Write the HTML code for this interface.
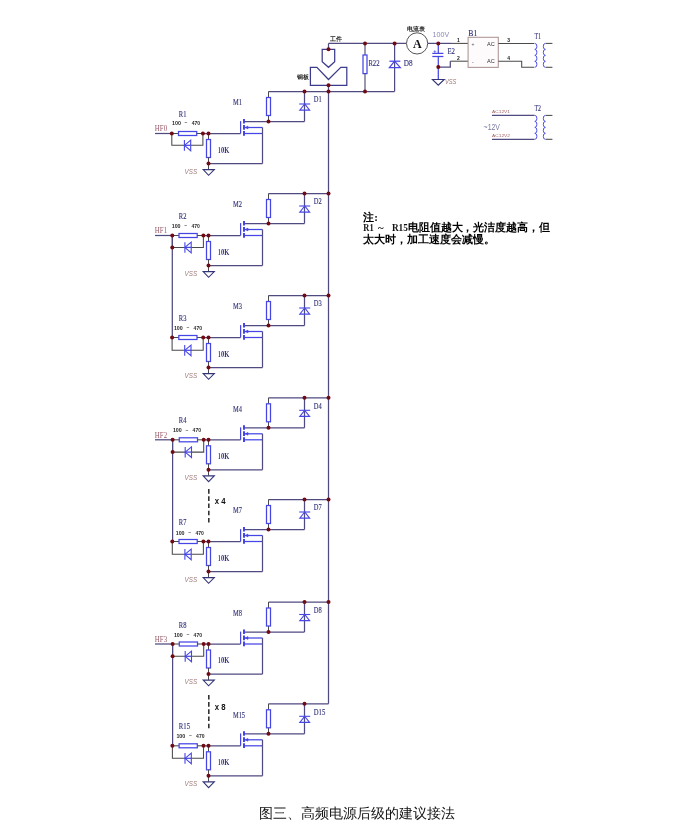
<!DOCTYPE html>
<html><head><meta charset="utf-8"><style>
html,body{margin:0;padding:0;background:#fff;}
body{width:700px;height:833px;overflow:hidden;}
svg{display:block;will-change:transform;}
</style></head><body>
<svg width="700" height="833" viewBox="0 0 700 833">
<rect width="700" height="833" fill="#fff"/>
<line x1="268.5" y1="91.5" x2="328.5" y2="91.5" stroke="#4f4a80" stroke-width="1.25" />
<line x1="268.5" y1="91.5" x2="268.5" y2="97.5" stroke="#4a4a4a" stroke-width="1.05" />
<line x1="268.5" y1="115.5" x2="268.5" y2="121.5" stroke="#4a4a4a" stroke-width="1.05" />
<rect x="266.5" y="97.5" width="4" height="18" stroke="#4646e6" stroke-width="1.25" fill="#fff"/>
<line x1="244" y1="121.5" x2="304.5" y2="121.5" stroke="#4f4a80" stroke-width="1.25" />
<line x1="304.5" y1="121.5" x2="304.5" y2="91.5" stroke="#4f4a80" stroke-width="1.25" />
<line x1="299.2" y1="104.0" x2="310.2" y2="104.0" stroke="#4646e6" stroke-width="1.1" />
<polygon points="304.7,104.0 299.8,110.1 309.6,110.1" stroke="#4646e6" stroke-width="1.1" fill="none" stroke-linejoin="miter"/>
<line x1="240.6" y1="121.1" x2="240.6" y2="133.5" stroke="#4646e6" stroke-width="1.25" />
<line x1="244" y1="119.0" x2="244" y2="123.5" stroke="#4646e6" stroke-width="2" />
<line x1="244" y1="125.0" x2="244" y2="129.7" stroke="#4646e6" stroke-width="2" />
<line x1="244" y1="131.0" x2="244" y2="135.7" stroke="#4646e6" stroke-width="2" />
<line x1="245" y1="127.5" x2="262.5" y2="127.5" stroke="#4646e6" stroke-width="1.25" />
<polygon points="245.3,127.5 248,126.1 248,128.9" stroke="#4646e6" stroke-width="0.6" fill="#4646e6" stroke-linejoin="miter"/>
<line x1="244" y1="133.5" x2="262.5" y2="133.5" stroke="#4646e6" stroke-width="1.25" />
<line x1="262.5" y1="127.5" x2="262.5" y2="163.5" stroke="#4f4a80" stroke-width="1.25" />
<line x1="208.5" y1="163.5" x2="262.5" y2="163.5" stroke="#4f4a80" stroke-width="1.25" />
<line x1="155" y1="133.5" x2="171.8" y2="133.5" stroke="#4f4a80" stroke-width="1.25" />
<text x="154.8" y="131.3" font-family="Liberation Serif" font-size="7.4" fill="#985868" font-weight="normal"  textLength="12.3" lengthAdjust="spacingAndGlyphs">HF0</text>
<line x1="171.8" y1="133.5" x2="178.5" y2="133.5" stroke="#4a4a4a" stroke-width="1.05" />
<rect x="178.5" y="131.5" width="18.2" height="4" stroke="#4646e6" stroke-width="1.25" fill="#fff"/>
<line x1="196.7" y1="133.5" x2="202.9" y2="133.5" stroke="#4a4a4a" stroke-width="1.05" />
<line x1="202.9" y1="133.5" x2="240.6" y2="133.5" stroke="#4f4a80" stroke-width="1.25" />
<polyline points="171.8,133.5 171.8,145.3 184.4,145.3" stroke="#4a4a4a" stroke-width="1.05" fill="none" stroke-linejoin="miter"/>
<polyline points="190.7,145.3 202.9,145.3 202.9,133.5" stroke="#4a4a4a" stroke-width="1.05" fill="none" stroke-linejoin="miter"/>
<line x1="184.4" y1="145.3" x2="190.7" y2="145.3" stroke="#4646e6" stroke-width="1.25" />
<line x1="184.4" y1="140.10000000000002" x2="184.4" y2="150.70000000000002" stroke="#4646e6" stroke-width="1.1" />
<polygon points="184.4,145.3 190.7,140.10000000000002 190.7,150.70000000000002" stroke="#4646e6" stroke-width="1.1" fill="none" stroke-linejoin="miter"/>
<line x1="208.5" y1="133.5" x2="208.5" y2="139.5" stroke="#4a4a4a" stroke-width="1.05" />
<rect x="206.5" y="139.5" width="4" height="18" stroke="#4646e6" stroke-width="1.25" fill="#fff"/>
<line x1="208.5" y1="157.5" x2="208.5" y2="169.5" stroke="#4a4a4a" stroke-width="1.05" />
<polygon points="203.2,169.6 214.3,169.6 208.6,175.3" stroke="#333378" stroke-width="1.1" fill="none" stroke-linejoin="miter"/>
<text x="178.8" y="117.0" font-family="Liberation Serif" font-size="7.4" fill="#303078" font-weight="normal"  textLength="7.6" lengthAdjust="spacingAndGlyphs" stroke="#303078" stroke-width="0.12">R1</text>
<text x="172.0" y="124.9" font-family="Liberation Sans" font-size="6.0" fill="#2a2a2a" font-weight="bold"  textLength="8.9" lengthAdjust="spacingAndGlyphs">100</text>
<text x="184.5" y="124.30000000000001" font-family="Liberation Sans" font-size="5.5" fill="#2a2a2a" font-weight="bold"  textLength="2.8" lengthAdjust="spacingAndGlyphs">~</text>
<text x="191.7" y="124.9" font-family="Liberation Sans" font-size="6.0" fill="#2a2a2a" font-weight="bold"  textLength="8.4" lengthAdjust="spacingAndGlyphs">470</text>
<text x="218.0" y="152.9" font-family="Liberation Serif" font-size="7.3" fill="#2e2e76" font-weight="bold"  textLength="2.6" lengthAdjust="spacingAndGlyphs">1</text>
<text x="221.0" y="152.9" font-family="Liberation Serif" font-size="7.3" fill="#2e2e76" font-weight="bold"  textLength="8.3" lengthAdjust="spacingAndGlyphs">0K</text>
<text x="184.6" y="173.5" font-family="Liberation Sans" font-size="6.5" fill="#a07a7a" font-weight="normal" font-style="italic" textLength="12.5" lengthAdjust="spacingAndGlyphs">VSS</text>
<text x="232.9" y="105.4" font-family="Liberation Serif" font-size="7.8" fill="#303078" font-weight="normal"  textLength="9.0" lengthAdjust="spacingAndGlyphs" stroke="#303078" stroke-width="0.12">M1</text>
<text x="313.8" y="102.3" font-family="Liberation Serif" font-size="7.8" fill="#303078" font-weight="normal"  textLength="7.9" lengthAdjust="spacingAndGlyphs" stroke="#303078" stroke-width="0.12">D1</text>
<line x1="268.5" y1="193.5" x2="328.5" y2="193.5" stroke="#4f4a80" stroke-width="1.25" />
<line x1="268.5" y1="193.5" x2="268.5" y2="199.5" stroke="#4a4a4a" stroke-width="1.05" />
<line x1="268.5" y1="217.5" x2="268.5" y2="223.5" stroke="#4a4a4a" stroke-width="1.05" />
<rect x="266.5" y="199.5" width="4" height="18" stroke="#4646e6" stroke-width="1.25" fill="#fff"/>
<line x1="244" y1="223.5" x2="304.5" y2="223.5" stroke="#4f4a80" stroke-width="1.25" />
<line x1="304.5" y1="223.5" x2="304.5" y2="193.5" stroke="#4f4a80" stroke-width="1.25" />
<line x1="299.2" y1="206.0" x2="310.2" y2="206.0" stroke="#4646e6" stroke-width="1.1" />
<polygon points="304.7,206.0 299.8,212.1 309.6,212.1" stroke="#4646e6" stroke-width="1.1" fill="none" stroke-linejoin="miter"/>
<line x1="240.6" y1="223.1" x2="240.6" y2="235.5" stroke="#4646e6" stroke-width="1.25" />
<line x1="244" y1="221.0" x2="244" y2="225.5" stroke="#4646e6" stroke-width="2" />
<line x1="244" y1="227.0" x2="244" y2="231.7" stroke="#4646e6" stroke-width="2" />
<line x1="244" y1="233.0" x2="244" y2="237.7" stroke="#4646e6" stroke-width="2" />
<line x1="245" y1="229.5" x2="262.5" y2="229.5" stroke="#4646e6" stroke-width="1.25" />
<polygon points="245.3,229.5 248,228.1 248,230.9" stroke="#4646e6" stroke-width="0.6" fill="#4646e6" stroke-linejoin="miter"/>
<line x1="244" y1="235.5" x2="262.5" y2="235.5" stroke="#4646e6" stroke-width="1.25" />
<line x1="262.5" y1="229.5" x2="262.5" y2="265.5" stroke="#4f4a80" stroke-width="1.25" />
<line x1="208.5" y1="265.5" x2="262.5" y2="265.5" stroke="#4f4a80" stroke-width="1.25" />
<line x1="155" y1="235.5" x2="172.3" y2="235.5" stroke="#4f4a80" stroke-width="1.25" />
<text x="154.8" y="233.3" font-family="Liberation Serif" font-size="7.4" fill="#985868" font-weight="normal"  textLength="12.3" lengthAdjust="spacingAndGlyphs">HF1</text>
<line x1="172.3" y1="235.5" x2="179.0" y2="235.5" stroke="#4a4a4a" stroke-width="1.05" />
<rect x="179.0" y="233.5" width="18.2" height="4" stroke="#4646e6" stroke-width="1.25" fill="#fff"/>
<line x1="197.2" y1="235.5" x2="203.4" y2="235.5" stroke="#4a4a4a" stroke-width="1.05" />
<line x1="203.4" y1="235.5" x2="240.6" y2="235.5" stroke="#4f4a80" stroke-width="1.25" />
<polyline points="172.3,235.5 172.3,247.4 184.9,247.4" stroke="#4a4a4a" stroke-width="1.05" fill="none" stroke-linejoin="miter"/>
<polyline points="191.2,247.4 203.4,247.4 203.4,235.5" stroke="#4a4a4a" stroke-width="1.05" fill="none" stroke-linejoin="miter"/>
<line x1="184.9" y1="247.4" x2="191.2" y2="247.4" stroke="#4646e6" stroke-width="1.25" />
<line x1="184.9" y1="242.20000000000002" x2="184.9" y2="252.8" stroke="#4646e6" stroke-width="1.1" />
<polygon points="184.9,247.4 191.2,242.20000000000002 191.2,252.8" stroke="#4646e6" stroke-width="1.1" fill="none" stroke-linejoin="miter"/>
<line x1="172.3" y1="235.5" x2="172.3" y2="337.5" stroke="#4f4a80" stroke-width="1.25" />
<line x1="208.5" y1="235.5" x2="208.5" y2="241.5" stroke="#4a4a4a" stroke-width="1.05" />
<rect x="206.5" y="241.5" width="4" height="18" stroke="#4646e6" stroke-width="1.25" fill="#fff"/>
<line x1="208.5" y1="259.5" x2="208.5" y2="271.5" stroke="#4a4a4a" stroke-width="1.05" />
<polygon points="203.2,271.6 214.3,271.6 208.6,277.3" stroke="#333378" stroke-width="1.1" fill="none" stroke-linejoin="miter"/>
<text x="178.8" y="219.0" font-family="Liberation Serif" font-size="7.4" fill="#303078" font-weight="normal"  textLength="7.6" lengthAdjust="spacingAndGlyphs" stroke="#303078" stroke-width="0.12">R2</text>
<text x="171.7" y="227.9" font-family="Liberation Sans" font-size="6.0" fill="#2a2a2a" font-weight="bold"  textLength="8.9" lengthAdjust="spacingAndGlyphs">100</text>
<text x="184.2" y="227.3" font-family="Liberation Sans" font-size="5.5" fill="#2a2a2a" font-weight="bold"  textLength="2.8" lengthAdjust="spacingAndGlyphs">~</text>
<text x="191.39999999999998" y="227.9" font-family="Liberation Sans" font-size="6.0" fill="#2a2a2a" font-weight="bold"  textLength="8.4" lengthAdjust="spacingAndGlyphs">470</text>
<text x="218.0" y="254.9" font-family="Liberation Serif" font-size="7.3" fill="#2e2e76" font-weight="bold"  textLength="2.6" lengthAdjust="spacingAndGlyphs">1</text>
<text x="221.0" y="254.9" font-family="Liberation Serif" font-size="7.3" fill="#2e2e76" font-weight="bold"  textLength="8.3" lengthAdjust="spacingAndGlyphs">0K</text>
<text x="184.6" y="275.5" font-family="Liberation Sans" font-size="6.5" fill="#a07a7a" font-weight="normal" font-style="italic" textLength="12.5" lengthAdjust="spacingAndGlyphs">VSS</text>
<text x="232.9" y="207.4" font-family="Liberation Serif" font-size="7.8" fill="#303078" font-weight="normal"  textLength="9.0" lengthAdjust="spacingAndGlyphs" stroke="#303078" stroke-width="0.12">M2</text>
<text x="313.8" y="204.3" font-family="Liberation Serif" font-size="7.8" fill="#303078" font-weight="normal"  textLength="7.9" lengthAdjust="spacingAndGlyphs" stroke="#303078" stroke-width="0.12">D2</text>
<line x1="268.5" y1="295.5" x2="328.5" y2="295.5" stroke="#4f4a80" stroke-width="1.25" />
<line x1="268.5" y1="295.5" x2="268.5" y2="301.5" stroke="#4a4a4a" stroke-width="1.05" />
<line x1="268.5" y1="319.5" x2="268.5" y2="325.5" stroke="#4a4a4a" stroke-width="1.05" />
<rect x="266.5" y="301.5" width="4" height="18" stroke="#4646e6" stroke-width="1.25" fill="#fff"/>
<line x1="244" y1="325.5" x2="304.5" y2="325.5" stroke="#4f4a80" stroke-width="1.25" />
<line x1="304.5" y1="325.5" x2="304.5" y2="295.5" stroke="#4f4a80" stroke-width="1.25" />
<line x1="299.2" y1="308.0" x2="310.2" y2="308.0" stroke="#4646e6" stroke-width="1.1" />
<polygon points="304.7,308.0 299.8,314.1 309.6,314.1" stroke="#4646e6" stroke-width="1.1" fill="none" stroke-linejoin="miter"/>
<line x1="240.6" y1="325.1" x2="240.6" y2="337.5" stroke="#4646e6" stroke-width="1.25" />
<line x1="244" y1="323.0" x2="244" y2="327.5" stroke="#4646e6" stroke-width="2" />
<line x1="244" y1="329.0" x2="244" y2="333.7" stroke="#4646e6" stroke-width="2" />
<line x1="244" y1="335.0" x2="244" y2="339.7" stroke="#4646e6" stroke-width="2" />
<line x1="245" y1="331.5" x2="262.5" y2="331.5" stroke="#4646e6" stroke-width="1.25" />
<polygon points="245.3,331.5 248,330.1 248,332.9" stroke="#4646e6" stroke-width="0.6" fill="#4646e6" stroke-linejoin="miter"/>
<line x1="244" y1="337.5" x2="262.5" y2="337.5" stroke="#4646e6" stroke-width="1.25" />
<line x1="262.5" y1="331.5" x2="262.5" y2="367.5" stroke="#4f4a80" stroke-width="1.25" />
<line x1="208.5" y1="367.5" x2="262.5" y2="367.5" stroke="#4f4a80" stroke-width="1.25" />
<line x1="172.10000000000002" y1="337.5" x2="178.8" y2="337.5" stroke="#4a4a4a" stroke-width="1.05" />
<rect x="178.8" y="335.5" width="18.2" height="4" stroke="#4646e6" stroke-width="1.25" fill="#fff"/>
<line x1="197.0" y1="337.5" x2="203.20000000000002" y2="337.5" stroke="#4a4a4a" stroke-width="1.05" />
<line x1="203.20000000000002" y1="337.5" x2="240.6" y2="337.5" stroke="#4f4a80" stroke-width="1.25" />
<polyline points="172.10000000000002,337.5 172.10000000000002,350.3 184.70000000000002,350.3" stroke="#4a4a4a" stroke-width="1.05" fill="none" stroke-linejoin="miter"/>
<polyline points="191.0,350.3 203.20000000000002,350.3 203.20000000000002,337.5" stroke="#4a4a4a" stroke-width="1.05" fill="none" stroke-linejoin="miter"/>
<line x1="184.70000000000002" y1="350.3" x2="191.0" y2="350.3" stroke="#4646e6" stroke-width="1.25" />
<line x1="184.70000000000002" y1="345.1" x2="184.70000000000002" y2="355.7" stroke="#4646e6" stroke-width="1.1" />
<polygon points="184.70000000000002,350.3 191.0,345.1 191.0,355.7" stroke="#4646e6" stroke-width="1.1" fill="none" stroke-linejoin="miter"/>
<line x1="208.5" y1="337.5" x2="208.5" y2="343.5" stroke="#4a4a4a" stroke-width="1.05" />
<rect x="206.5" y="343.5" width="4" height="18" stroke="#4646e6" stroke-width="1.25" fill="#fff"/>
<line x1="208.5" y1="361.5" x2="208.5" y2="373.5" stroke="#4a4a4a" stroke-width="1.05" />
<polygon points="203.2,373.6 214.3,373.6 208.6,379.3" stroke="#333378" stroke-width="1.1" fill="none" stroke-linejoin="miter"/>
<text x="178.8" y="321.0" font-family="Liberation Serif" font-size="7.4" fill="#303078" font-weight="normal"  textLength="7.6" lengthAdjust="spacingAndGlyphs" stroke="#303078" stroke-width="0.12">R3</text>
<text x="173.9" y="330.0" font-family="Liberation Sans" font-size="6.0" fill="#2a2a2a" font-weight="bold"  textLength="8.9" lengthAdjust="spacingAndGlyphs">100</text>
<text x="186.4" y="329.4" font-family="Liberation Sans" font-size="5.5" fill="#2a2a2a" font-weight="bold"  textLength="2.8" lengthAdjust="spacingAndGlyphs">~</text>
<text x="193.6" y="330.0" font-family="Liberation Sans" font-size="6.0" fill="#2a2a2a" font-weight="bold"  textLength="8.4" lengthAdjust="spacingAndGlyphs">470</text>
<text x="218.0" y="356.9" font-family="Liberation Serif" font-size="7.3" fill="#2e2e76" font-weight="bold"  textLength="2.6" lengthAdjust="spacingAndGlyphs">1</text>
<text x="221.0" y="356.9" font-family="Liberation Serif" font-size="7.3" fill="#2e2e76" font-weight="bold"  textLength="8.3" lengthAdjust="spacingAndGlyphs">0K</text>
<text x="184.6" y="377.5" font-family="Liberation Sans" font-size="6.5" fill="#a07a7a" font-weight="normal" font-style="italic" textLength="12.5" lengthAdjust="spacingAndGlyphs">VSS</text>
<text x="232.9" y="309.4" font-family="Liberation Serif" font-size="7.8" fill="#303078" font-weight="normal"  textLength="9.0" lengthAdjust="spacingAndGlyphs" stroke="#303078" stroke-width="0.12">M3</text>
<text x="313.8" y="306.3" font-family="Liberation Serif" font-size="7.8" fill="#303078" font-weight="normal"  textLength="7.9" lengthAdjust="spacingAndGlyphs" stroke="#303078" stroke-width="0.12">D3</text>
<line x1="268.5" y1="397.8" x2="328.5" y2="397.8" stroke="#4f4a80" stroke-width="1.25" />
<line x1="268.5" y1="397.8" x2="268.5" y2="403.8" stroke="#4a4a4a" stroke-width="1.05" />
<line x1="268.5" y1="421.8" x2="268.5" y2="427.8" stroke="#4a4a4a" stroke-width="1.05" />
<rect x="266.5" y="403.8" width="4" height="18" stroke="#4646e6" stroke-width="1.25" fill="#fff"/>
<line x1="244" y1="427.8" x2="304.5" y2="427.8" stroke="#4f4a80" stroke-width="1.25" />
<line x1="304.5" y1="427.8" x2="304.5" y2="397.8" stroke="#4f4a80" stroke-width="1.25" />
<line x1="299.2" y1="410.3" x2="310.2" y2="410.3" stroke="#4646e6" stroke-width="1.1" />
<polygon points="304.7,410.3 299.8,416.40000000000003 309.6,416.40000000000003" stroke="#4646e6" stroke-width="1.1" fill="none" stroke-linejoin="miter"/>
<line x1="240.6" y1="427.40000000000003" x2="240.6" y2="439.8" stroke="#4646e6" stroke-width="1.25" />
<line x1="244" y1="425.3" x2="244" y2="429.8" stroke="#4646e6" stroke-width="2" />
<line x1="244" y1="431.3" x2="244" y2="436.0" stroke="#4646e6" stroke-width="2" />
<line x1="244" y1="437.3" x2="244" y2="442.0" stroke="#4646e6" stroke-width="2" />
<line x1="245" y1="433.8" x2="262.5" y2="433.8" stroke="#4646e6" stroke-width="1.25" />
<polygon points="245.3,433.8 248,432.40000000000003 248,435.2" stroke="#4646e6" stroke-width="0.6" fill="#4646e6" stroke-linejoin="miter"/>
<line x1="244" y1="439.8" x2="262.5" y2="439.8" stroke="#4646e6" stroke-width="1.25" />
<line x1="262.5" y1="433.8" x2="262.5" y2="469.8" stroke="#4f4a80" stroke-width="1.25" />
<line x1="208.5" y1="469.8" x2="262.5" y2="469.8" stroke="#4f4a80" stroke-width="1.25" />
<line x1="155" y1="439.8" x2="172.60000000000002" y2="439.8" stroke="#4f4a80" stroke-width="1.25" />
<text x="154.8" y="437.6" font-family="Liberation Serif" font-size="7.4" fill="#985868" font-weight="normal"  textLength="12.3" lengthAdjust="spacingAndGlyphs">HF2</text>
<line x1="172.60000000000002" y1="439.8" x2="179.3" y2="439.8" stroke="#4a4a4a" stroke-width="1.05" />
<rect x="179.3" y="437.8" width="18.2" height="4" stroke="#4646e6" stroke-width="1.25" fill="#fff"/>
<line x1="197.5" y1="439.8" x2="203.70000000000002" y2="439.8" stroke="#4a4a4a" stroke-width="1.05" />
<line x1="203.70000000000002" y1="439.8" x2="240.6" y2="439.8" stroke="#4f4a80" stroke-width="1.25" />
<polyline points="172.60000000000002,439.8 172.60000000000002,452.1 185.20000000000002,452.1" stroke="#4a4a4a" stroke-width="1.05" fill="none" stroke-linejoin="miter"/>
<polyline points="191.5,452.1 203.70000000000002,452.1 203.70000000000002,439.8" stroke="#4a4a4a" stroke-width="1.05" fill="none" stroke-linejoin="miter"/>
<line x1="185.20000000000002" y1="452.1" x2="191.5" y2="452.1" stroke="#4646e6" stroke-width="1.25" />
<line x1="185.20000000000002" y1="446.90000000000003" x2="185.20000000000002" y2="457.5" stroke="#4646e6" stroke-width="1.1" />
<polygon points="185.20000000000002,452.1 191.5,446.90000000000003 191.5,457.5" stroke="#4646e6" stroke-width="1.1" fill="none" stroke-linejoin="miter"/>
<line x1="172.60000000000002" y1="439.8" x2="172.60000000000002" y2="541.5" stroke="#4f4a80" stroke-width="1.25" />
<line x1="208.5" y1="439.8" x2="208.5" y2="445.8" stroke="#4a4a4a" stroke-width="1.05" />
<rect x="206.5" y="445.8" width="4" height="18" stroke="#4646e6" stroke-width="1.25" fill="#fff"/>
<line x1="208.5" y1="463.8" x2="208.5" y2="475.8" stroke="#4a4a4a" stroke-width="1.05" />
<polygon points="203.2,475.9 214.3,475.9 208.6,481.6" stroke="#333378" stroke-width="1.1" fill="none" stroke-linejoin="miter"/>
<text x="178.8" y="423.3" font-family="Liberation Serif" font-size="7.4" fill="#303078" font-weight="normal"  textLength="7.6" lengthAdjust="spacingAndGlyphs" stroke="#303078" stroke-width="0.12">R4</text>
<text x="172.9" y="432.1" font-family="Liberation Sans" font-size="6.0" fill="#2a2a2a" font-weight="bold"  textLength="8.9" lengthAdjust="spacingAndGlyphs">100</text>
<text x="185.4" y="431.5" font-family="Liberation Sans" font-size="5.5" fill="#2a2a2a" font-weight="bold"  textLength="2.8" lengthAdjust="spacingAndGlyphs">~</text>
<text x="192.6" y="432.1" font-family="Liberation Sans" font-size="6.0" fill="#2a2a2a" font-weight="bold"  textLength="8.4" lengthAdjust="spacingAndGlyphs">470</text>
<text x="218.0" y="459.2" font-family="Liberation Serif" font-size="7.3" fill="#2e2e76" font-weight="bold"  textLength="2.6" lengthAdjust="spacingAndGlyphs">1</text>
<text x="221.0" y="459.2" font-family="Liberation Serif" font-size="7.3" fill="#2e2e76" font-weight="bold"  textLength="8.3" lengthAdjust="spacingAndGlyphs">0K</text>
<text x="184.6" y="479.8" font-family="Liberation Sans" font-size="6.5" fill="#a07a7a" font-weight="normal" font-style="italic" textLength="12.5" lengthAdjust="spacingAndGlyphs">VSS</text>
<text x="232.9" y="411.7" font-family="Liberation Serif" font-size="7.8" fill="#303078" font-weight="normal"  textLength="9.0" lengthAdjust="spacingAndGlyphs" stroke="#303078" stroke-width="0.12">M4</text>
<text x="313.8" y="408.6" font-family="Liberation Serif" font-size="7.8" fill="#303078" font-weight="normal"  textLength="7.9" lengthAdjust="spacingAndGlyphs" stroke="#303078" stroke-width="0.12">D4</text>
<line x1="268.5" y1="499.5" x2="328.5" y2="499.5" stroke="#4f4a80" stroke-width="1.25" />
<line x1="268.5" y1="499.5" x2="268.5" y2="505.5" stroke="#4a4a4a" stroke-width="1.05" />
<line x1="268.5" y1="523.5" x2="268.5" y2="529.5" stroke="#4a4a4a" stroke-width="1.05" />
<rect x="266.5" y="505.5" width="4" height="18" stroke="#4646e6" stroke-width="1.25" fill="#fff"/>
<line x1="244" y1="529.5" x2="304.5" y2="529.5" stroke="#4f4a80" stroke-width="1.25" />
<line x1="304.5" y1="529.5" x2="304.5" y2="499.5" stroke="#4f4a80" stroke-width="1.25" />
<line x1="299.2" y1="512.0" x2="310.2" y2="512.0" stroke="#4646e6" stroke-width="1.1" />
<polygon points="304.7,512.0 299.8,518.1 309.6,518.1" stroke="#4646e6" stroke-width="1.1" fill="none" stroke-linejoin="miter"/>
<line x1="240.6" y1="529.1" x2="240.6" y2="541.5" stroke="#4646e6" stroke-width="1.25" />
<line x1="244" y1="527.0" x2="244" y2="531.5" stroke="#4646e6" stroke-width="2" />
<line x1="244" y1="533.0" x2="244" y2="537.7" stroke="#4646e6" stroke-width="2" />
<line x1="244" y1="539.0" x2="244" y2="543.7" stroke="#4646e6" stroke-width="2" />
<line x1="245" y1="535.5" x2="262.5" y2="535.5" stroke="#4646e6" stroke-width="1.25" />
<polygon points="245.3,535.5 248,534.1 248,536.9" stroke="#4646e6" stroke-width="0.6" fill="#4646e6" stroke-linejoin="miter"/>
<line x1="244" y1="541.5" x2="262.5" y2="541.5" stroke="#4646e6" stroke-width="1.25" />
<line x1="262.5" y1="535.5" x2="262.5" y2="571.5" stroke="#4f4a80" stroke-width="1.25" />
<line x1="208.5" y1="571.5" x2="262.5" y2="571.5" stroke="#4f4a80" stroke-width="1.25" />
<line x1="172.3" y1="541.5" x2="179.0" y2="541.5" stroke="#4a4a4a" stroke-width="1.05" />
<rect x="179.0" y="539.5" width="18.2" height="4" stroke="#4646e6" stroke-width="1.25" fill="#fff"/>
<line x1="197.2" y1="541.5" x2="203.4" y2="541.5" stroke="#4a4a4a" stroke-width="1.05" />
<line x1="203.4" y1="541.5" x2="240.6" y2="541.5" stroke="#4f4a80" stroke-width="1.25" />
<polyline points="172.3,541.5 172.3,554.3 184.9,554.3" stroke="#4a4a4a" stroke-width="1.05" fill="none" stroke-linejoin="miter"/>
<polyline points="191.2,554.3 203.4,554.3 203.4,541.5" stroke="#4a4a4a" stroke-width="1.05" fill="none" stroke-linejoin="miter"/>
<line x1="184.9" y1="554.3" x2="191.2" y2="554.3" stroke="#4646e6" stroke-width="1.25" />
<line x1="184.9" y1="549.0999999999999" x2="184.9" y2="559.6999999999999" stroke="#4646e6" stroke-width="1.1" />
<polygon points="184.9,554.3 191.2,549.0999999999999 191.2,559.6999999999999" stroke="#4646e6" stroke-width="1.1" fill="none" stroke-linejoin="miter"/>
<line x1="208.5" y1="541.5" x2="208.5" y2="547.5" stroke="#4a4a4a" stroke-width="1.05" />
<rect x="206.5" y="547.5" width="4" height="18" stroke="#4646e6" stroke-width="1.25" fill="#fff"/>
<line x1="208.5" y1="565.5" x2="208.5" y2="577.5" stroke="#4a4a4a" stroke-width="1.05" />
<polygon points="203.2,577.6 214.3,577.6 208.6,583.3" stroke="#333378" stroke-width="1.1" fill="none" stroke-linejoin="miter"/>
<text x="178.8" y="525.0" font-family="Liberation Serif" font-size="7.4" fill="#303078" font-weight="normal"  textLength="7.6" lengthAdjust="spacingAndGlyphs" stroke="#303078" stroke-width="0.12">R7</text>
<text x="175.7" y="535.0" font-family="Liberation Sans" font-size="6.0" fill="#2a2a2a" font-weight="bold"  textLength="8.9" lengthAdjust="spacingAndGlyphs">100</text>
<text x="188.2" y="534.4" font-family="Liberation Sans" font-size="5.5" fill="#2a2a2a" font-weight="bold"  textLength="2.8" lengthAdjust="spacingAndGlyphs">~</text>
<text x="195.39999999999998" y="535.0" font-family="Liberation Sans" font-size="6.0" fill="#2a2a2a" font-weight="bold"  textLength="8.4" lengthAdjust="spacingAndGlyphs">470</text>
<text x="218.0" y="560.9" font-family="Liberation Serif" font-size="7.3" fill="#2e2e76" font-weight="bold"  textLength="2.6" lengthAdjust="spacingAndGlyphs">1</text>
<text x="221.0" y="560.9" font-family="Liberation Serif" font-size="7.3" fill="#2e2e76" font-weight="bold"  textLength="8.3" lengthAdjust="spacingAndGlyphs">0K</text>
<text x="184.6" y="581.5" font-family="Liberation Sans" font-size="6.5" fill="#a07a7a" font-weight="normal" font-style="italic" textLength="12.5" lengthAdjust="spacingAndGlyphs">VSS</text>
<text x="232.9" y="513.4" font-family="Liberation Serif" font-size="7.8" fill="#303078" font-weight="normal"  textLength="9.0" lengthAdjust="spacingAndGlyphs" stroke="#303078" stroke-width="0.12">M7</text>
<text x="313.8" y="510.3" font-family="Liberation Serif" font-size="7.8" fill="#303078" font-weight="normal"  textLength="7.9" lengthAdjust="spacingAndGlyphs" stroke="#303078" stroke-width="0.12">D7</text>
<line x1="268.5" y1="602.0" x2="328.5" y2="602.0" stroke="#4f4a80" stroke-width="1.25" />
<line x1="268.5" y1="602.0" x2="268.5" y2="608.0" stroke="#4a4a4a" stroke-width="1.05" />
<line x1="268.5" y1="626.0" x2="268.5" y2="632.0" stroke="#4a4a4a" stroke-width="1.05" />
<rect x="266.5" y="608.0" width="4" height="18" stroke="#4646e6" stroke-width="1.25" fill="#fff"/>
<line x1="244" y1="632.0" x2="304.5" y2="632.0" stroke="#4f4a80" stroke-width="1.25" />
<line x1="304.5" y1="632.0" x2="304.5" y2="602.0" stroke="#4f4a80" stroke-width="1.25" />
<line x1="299.2" y1="614.5" x2="310.2" y2="614.5" stroke="#4646e6" stroke-width="1.1" />
<polygon points="304.7,614.5 299.8,620.6 309.6,620.6" stroke="#4646e6" stroke-width="1.1" fill="none" stroke-linejoin="miter"/>
<line x1="240.6" y1="631.6" x2="240.6" y2="644.0" stroke="#4646e6" stroke-width="1.25" />
<line x1="244" y1="629.5" x2="244" y2="634.0" stroke="#4646e6" stroke-width="2" />
<line x1="244" y1="635.5" x2="244" y2="640.2" stroke="#4646e6" stroke-width="2" />
<line x1="244" y1="641.5" x2="244" y2="646.2" stroke="#4646e6" stroke-width="2" />
<line x1="245" y1="638.0" x2="262.5" y2="638.0" stroke="#4646e6" stroke-width="1.25" />
<polygon points="245.3,638.0 248,636.6 248,639.4" stroke="#4646e6" stroke-width="0.6" fill="#4646e6" stroke-linejoin="miter"/>
<line x1="244" y1="644.0" x2="262.5" y2="644.0" stroke="#4646e6" stroke-width="1.25" />
<line x1="262.5" y1="638.0" x2="262.5" y2="674.0" stroke="#4f4a80" stroke-width="1.25" />
<line x1="208.5" y1="674.0" x2="262.5" y2="674.0" stroke="#4f4a80" stroke-width="1.25" />
<line x1="155" y1="644.0" x2="172.60000000000002" y2="644.0" stroke="#4f4a80" stroke-width="1.25" />
<text x="154.8" y="641.8" font-family="Liberation Serif" font-size="7.4" fill="#985868" font-weight="normal"  textLength="12.3" lengthAdjust="spacingAndGlyphs">HF3</text>
<line x1="172.60000000000002" y1="644.0" x2="179.3" y2="644.0" stroke="#4a4a4a" stroke-width="1.05" />
<rect x="179.3" y="642.0" width="18.2" height="4" stroke="#4646e6" stroke-width="1.25" fill="#fff"/>
<line x1="197.5" y1="644.0" x2="203.70000000000002" y2="644.0" stroke="#4a4a4a" stroke-width="1.05" />
<line x1="203.70000000000002" y1="644.0" x2="240.6" y2="644.0" stroke="#4f4a80" stroke-width="1.25" />
<polyline points="172.60000000000002,644.0 172.60000000000002,656.3 185.20000000000002,656.3" stroke="#4a4a4a" stroke-width="1.05" fill="none" stroke-linejoin="miter"/>
<polyline points="191.5,656.3 203.70000000000002,656.3 203.70000000000002,644.0" stroke="#4a4a4a" stroke-width="1.05" fill="none" stroke-linejoin="miter"/>
<line x1="185.20000000000002" y1="656.3" x2="191.5" y2="656.3" stroke="#4646e6" stroke-width="1.25" />
<line x1="185.20000000000002" y1="651.0999999999999" x2="185.20000000000002" y2="661.6999999999999" stroke="#4646e6" stroke-width="1.1" />
<polygon points="185.20000000000002,656.3 191.5,651.0999999999999 191.5,661.6999999999999" stroke="#4646e6" stroke-width="1.1" fill="none" stroke-linejoin="miter"/>
<line x1="172.60000000000002" y1="644.0" x2="172.60000000000002" y2="745.8" stroke="#4f4a80" stroke-width="1.25" />
<line x1="208.5" y1="644.0" x2="208.5" y2="650.0" stroke="#4a4a4a" stroke-width="1.05" />
<rect x="206.5" y="650.0" width="4" height="18" stroke="#4646e6" stroke-width="1.25" fill="#fff"/>
<line x1="208.5" y1="668.0" x2="208.5" y2="680.0" stroke="#4a4a4a" stroke-width="1.05" />
<polygon points="203.2,680.1 214.3,680.1 208.6,685.8" stroke="#333378" stroke-width="1.1" fill="none" stroke-linejoin="miter"/>
<text x="178.8" y="627.5" font-family="Liberation Serif" font-size="7.4" fill="#303078" font-weight="normal"  textLength="7.6" lengthAdjust="spacingAndGlyphs" stroke="#303078" stroke-width="0.12">R8</text>
<text x="173.9" y="636.8" font-family="Liberation Sans" font-size="6.0" fill="#2a2a2a" font-weight="bold"  textLength="8.9" lengthAdjust="spacingAndGlyphs">100</text>
<text x="186.4" y="636.1999999999999" font-family="Liberation Sans" font-size="5.5" fill="#2a2a2a" font-weight="bold"  textLength="2.8" lengthAdjust="spacingAndGlyphs">~</text>
<text x="193.6" y="636.8" font-family="Liberation Sans" font-size="6.0" fill="#2a2a2a" font-weight="bold"  textLength="8.4" lengthAdjust="spacingAndGlyphs">470</text>
<text x="218.0" y="663.4" font-family="Liberation Serif" font-size="7.3" fill="#2e2e76" font-weight="bold"  textLength="2.6" lengthAdjust="spacingAndGlyphs">1</text>
<text x="221.0" y="663.4" font-family="Liberation Serif" font-size="7.3" fill="#2e2e76" font-weight="bold"  textLength="8.3" lengthAdjust="spacingAndGlyphs">0K</text>
<text x="184.6" y="684.0" font-family="Liberation Sans" font-size="6.5" fill="#a07a7a" font-weight="normal" font-style="italic" textLength="12.5" lengthAdjust="spacingAndGlyphs">VSS</text>
<text x="232.9" y="615.9" font-family="Liberation Serif" font-size="7.8" fill="#303078" font-weight="normal"  textLength="9.0" lengthAdjust="spacingAndGlyphs" stroke="#303078" stroke-width="0.12">M8</text>
<text x="313.8" y="612.8" font-family="Liberation Serif" font-size="7.8" fill="#303078" font-weight="normal"  textLength="7.9" lengthAdjust="spacingAndGlyphs" stroke="#303078" stroke-width="0.12">D8</text>
<line x1="268.5" y1="703.8" x2="328.5" y2="703.8" stroke="#4f4a80" stroke-width="1.25" />
<line x1="268.5" y1="703.8" x2="268.5" y2="709.8" stroke="#4a4a4a" stroke-width="1.05" />
<line x1="268.5" y1="727.8" x2="268.5" y2="733.8" stroke="#4a4a4a" stroke-width="1.05" />
<rect x="266.5" y="709.8" width="4" height="18" stroke="#4646e6" stroke-width="1.25" fill="#fff"/>
<line x1="244" y1="733.8" x2="304.5" y2="733.8" stroke="#4f4a80" stroke-width="1.25" />
<line x1="304.5" y1="733.8" x2="304.5" y2="703.8" stroke="#4f4a80" stroke-width="1.25" />
<line x1="299.2" y1="716.3" x2="310.2" y2="716.3" stroke="#4646e6" stroke-width="1.1" />
<polygon points="304.7,716.3 299.8,722.4 309.6,722.4" stroke="#4646e6" stroke-width="1.1" fill="none" stroke-linejoin="miter"/>
<line x1="240.6" y1="733.4" x2="240.6" y2="745.8" stroke="#4646e6" stroke-width="1.25" />
<line x1="244" y1="731.3" x2="244" y2="735.8" stroke="#4646e6" stroke-width="2" />
<line x1="244" y1="737.3" x2="244" y2="742.0" stroke="#4646e6" stroke-width="2" />
<line x1="244" y1="743.3" x2="244" y2="748.0" stroke="#4646e6" stroke-width="2" />
<line x1="245" y1="739.8" x2="262.5" y2="739.8" stroke="#4646e6" stroke-width="1.25" />
<polygon points="245.3,739.8 248,738.4 248,741.1999999999999" stroke="#4646e6" stroke-width="0.6" fill="#4646e6" stroke-linejoin="miter"/>
<line x1="244" y1="745.8" x2="262.5" y2="745.8" stroke="#4646e6" stroke-width="1.25" />
<line x1="262.5" y1="739.8" x2="262.5" y2="775.8" stroke="#4f4a80" stroke-width="1.25" />
<line x1="208.5" y1="775.8" x2="262.5" y2="775.8" stroke="#4f4a80" stroke-width="1.25" />
<line x1="172.4" y1="745.8" x2="179.1" y2="745.8" stroke="#4a4a4a" stroke-width="1.05" />
<rect x="179.1" y="743.8" width="18.2" height="4" stroke="#4646e6" stroke-width="1.25" fill="#fff"/>
<line x1="197.29999999999998" y1="745.8" x2="203.5" y2="745.8" stroke="#4a4a4a" stroke-width="1.05" />
<line x1="203.5" y1="745.8" x2="240.6" y2="745.8" stroke="#4f4a80" stroke-width="1.25" />
<polyline points="172.4,745.8 172.4,758.3 185.0,758.3" stroke="#4a4a4a" stroke-width="1.05" fill="none" stroke-linejoin="miter"/>
<polyline points="191.29999999999998,758.3 203.5,758.3 203.5,745.8" stroke="#4a4a4a" stroke-width="1.05" fill="none" stroke-linejoin="miter"/>
<line x1="185.0" y1="758.3" x2="191.29999999999998" y2="758.3" stroke="#4646e6" stroke-width="1.25" />
<line x1="185.0" y1="753.0999999999999" x2="185.0" y2="763.6999999999999" stroke="#4646e6" stroke-width="1.1" />
<polygon points="185.0,758.3 191.29999999999998,753.0999999999999 191.29999999999998,763.6999999999999" stroke="#4646e6" stroke-width="1.1" fill="none" stroke-linejoin="miter"/>
<line x1="208.5" y1="745.8" x2="208.5" y2="751.8" stroke="#4a4a4a" stroke-width="1.05" />
<rect x="206.5" y="751.8" width="4" height="18" stroke="#4646e6" stroke-width="1.25" fill="#fff"/>
<line x1="208.5" y1="769.8" x2="208.5" y2="781.8" stroke="#4a4a4a" stroke-width="1.05" />
<polygon points="203.2,781.9 214.3,781.9 208.6,787.5999999999999" stroke="#333378" stroke-width="1.1" fill="none" stroke-linejoin="miter"/>
<text x="178.8" y="729.3" font-family="Liberation Serif" font-size="7.4" fill="#303078" font-weight="normal"  textLength="11.2" lengthAdjust="spacingAndGlyphs" stroke="#303078" stroke-width="0.12">R15</text>
<text x="176.4" y="737.8" font-family="Liberation Sans" font-size="6.0" fill="#2a2a2a" font-weight="bold"  textLength="8.9" lengthAdjust="spacingAndGlyphs">100</text>
<text x="188.9" y="737.1999999999999" font-family="Liberation Sans" font-size="5.5" fill="#2a2a2a" font-weight="bold"  textLength="2.8" lengthAdjust="spacingAndGlyphs">~</text>
<text x="196.1" y="737.8" font-family="Liberation Sans" font-size="6.0" fill="#2a2a2a" font-weight="bold"  textLength="8.4" lengthAdjust="spacingAndGlyphs">470</text>
<text x="218.0" y="765.1999999999999" font-family="Liberation Serif" font-size="7.3" fill="#2e2e76" font-weight="bold"  textLength="2.6" lengthAdjust="spacingAndGlyphs">1</text>
<text x="221.0" y="765.1999999999999" font-family="Liberation Serif" font-size="7.3" fill="#2e2e76" font-weight="bold"  textLength="8.3" lengthAdjust="spacingAndGlyphs">0K</text>
<text x="184.6" y="785.8" font-family="Liberation Sans" font-size="6.5" fill="#a07a7a" font-weight="normal" font-style="italic" textLength="12.5" lengthAdjust="spacingAndGlyphs">VSS</text>
<text x="232.9" y="717.6999999999999" font-family="Liberation Serif" font-size="7.8" fill="#303078" font-weight="normal"  textLength="12.2" lengthAdjust="spacingAndGlyphs" stroke="#303078" stroke-width="0.12">M15</text>
<text x="313.8" y="714.5999999999999" font-family="Liberation Serif" font-size="7.8" fill="#303078" font-weight="normal"  textLength="11.5" lengthAdjust="spacingAndGlyphs" stroke="#303078" stroke-width="0.12">D15</text>
<line x1="328.5" y1="85.3" x2="328.5" y2="703.8" stroke="#4f4a80" stroke-width="1.25" />
<line x1="208.8" y1="489.1" x2="208.8" y2="522.6" stroke="#333" stroke-width="1.6" stroke-dasharray="4.6,2.6"/>
<text x="214.8" y="503.90000000000003" font-family="Liberation Sans" font-size="8.3" fill="#111" font-weight="bold"  textLength="10.8" lengthAdjust="spacingAndGlyphs">x 4</text>
<line x1="208.8" y1="694.9" x2="208.8" y2="728.4" stroke="#333" stroke-width="1.6" stroke-dasharray="4.6,2.6"/>
<text x="214.8" y="709.6999999999999" font-family="Liberation Sans" font-size="8.3" fill="#111" font-weight="bold"  textLength="10.8" lengthAdjust="spacingAndGlyphs">x 8</text>
<line x1="328.5" y1="91.5" x2="394.6" y2="91.5" stroke="#4f4a80" stroke-width="1.25" />
<line x1="328.5" y1="43.4" x2="406.5" y2="43.4" stroke="#4f4a80" stroke-width="1.25" />
<line x1="328.5" y1="43.4" x2="328.5" y2="49.3" stroke="#4f4a80" stroke-width="1.25" />
<polygon points="322.2,49.3 334.7,49.3 334.7,61.7 328.5,67.3 322.2,61.7" stroke="#3c3c8c" stroke-width="1.25" fill="none" stroke-linejoin="miter"/>
<polygon points="310.4,67.3 316.9,67.3 328.5,79.5 340.8,67.3 346.8,67.3 346.8,85.3 310.4,85.3" stroke="#3c3c8c" stroke-width="1.25" fill="none" stroke-linejoin="miter"/>
<text x="329.5" y="41" font-family="Liberation Sans" font-size="5.5" fill="#222" font-weight="bold" >工件</text>
<text x="296.5" y="78.8" font-family="Liberation Sans" font-size="5.5" fill="#222" font-weight="bold" >铜板</text>
<line x1="365" y1="43.4" x2="365" y2="55" stroke="#48466a" stroke-width="1.1" />
<rect x="363" y="55" width="4" height="18.6" stroke="#4646e6" stroke-width="1.25" fill="#fff"/>
<line x1="365" y1="73.6" x2="365" y2="91.5" stroke="#48466a" stroke-width="1.1" />
<text x="368.4" y="66.2" font-family="Liberation Serif" font-size="7.6" fill="#303078" font-weight="normal"  textLength="11.2" lengthAdjust="spacingAndGlyphs" stroke="#303078" stroke-width="0.12">R22</text>
<line x1="394.6" y1="43.4" x2="394.6" y2="91.5" stroke="#4f4a80" stroke-width="1.25" />
<line x1="389.4" y1="61.2" x2="400.3" y2="61.2" stroke="#4646e6" stroke-width="1.25" />
<polygon points="394.6,61.2 389.4,67.5 400.3,67.5" stroke="#4646e6" stroke-width="1.25" fill="none" stroke-linejoin="miter"/>
<text x="403.8" y="66.0" font-family="Liberation Serif" font-size="7.6" fill="#303078" font-weight="normal"  textLength="8.8" lengthAdjust="spacingAndGlyphs" stroke="#303078" stroke-width="0.12">D8</text>
<circle cx="417.1" cy="43.4" r="10.6" stroke="#555" stroke-width="1" fill="#fff"/>
<text x="413.0" y="47.6" font-family="Liberation Serif" font-size="13.2" fill="#111" font-weight="bold"  textLength="8.7" lengthAdjust="spacingAndGlyphs">A</text>
<text x="406.5" y="31.2" font-family="Liberation Sans" font-size="6" fill="#222" font-weight="bold" >电流表</text>
<line x1="427.7" y1="43.4" x2="451" y2="43.4" stroke="#4f4a80" stroke-width="1.25" />
<line x1="451" y1="43.4" x2="468.1" y2="43.4" stroke="#4a4a4a" stroke-width="1.05" />
<text x="432.6" y="37.4" font-family="Liberation Sans" font-size="7.4" fill="#8a8ab8" font-weight="normal"  textLength="16.5" lengthAdjust="spacingAndGlyphs">100V</text>
<line x1="438.3" y1="43.4" x2="438.3" y2="53.4" stroke="#4646e6" stroke-width="1.25" />
<line x1="432.3" y1="53.4" x2="443.4" y2="53.4" stroke="#4646e6" stroke-width="1.25" />
<line x1="432.3" y1="56.5" x2="443.4" y2="56.5" stroke="#4646e6" stroke-width="1.25" />
<line x1="438.3" y1="56.5" x2="438.3" y2="79.4" stroke="#4646e6" stroke-width="1.25" />
<text x="433.2" y="52.8" font-family="Liberation Sans" font-size="5.5" fill="#4646e6" font-weight="bold" >+</text>
<text x="447.4" y="54" font-family="Liberation Serif" font-size="7.6" fill="#303078" font-weight="normal"  textLength="7.5" lengthAdjust="spacingAndGlyphs" stroke="#303078" stroke-width="0.12">E2</text>
<polyline points="438.3,67.1 450.3,67.1 450.3,61.2" stroke="#4f4a80" stroke-width="1.25" fill="none" stroke-linejoin="miter"/>
<line x1="450.3" y1="61.2" x2="468.1" y2="61.2" stroke="#4a4a4a" stroke-width="1.05" />
<polygon points="432.4,79.5 444.2,79.5 438.3,85.2" stroke="#333378" stroke-width="1.1" fill="none" stroke-linejoin="miter"/>
<text x="444.9" y="83.7" font-family="Liberation Sans" font-size="6.5" fill="#a07a7a" font-weight="normal" font-style="italic" textLength="11.4" lengthAdjust="spacingAndGlyphs">VSS</text>
<rect x="468.1" y="37.3" width="30.2" height="30.1" stroke="#b09898" stroke-width="1.1" fill="#fdfbfb"/>
<text x="468.3" y="35.7" font-family="Liberation Serif" font-size="7.8" fill="#303078" font-weight="normal"  stroke="#303078" stroke-width="0.12">B1</text>
<text x="457" y="41.6" font-family="Liberation Sans" font-size="5" fill="#222" font-weight="bold" >1</text>
<text x="457" y="59.6" font-family="Liberation Sans" font-size="5" fill="#222" font-weight="bold" >2</text>
<text x="507.2" y="41.6" font-family="Liberation Sans" font-size="5" fill="#222" font-weight="bold" >3</text>
<text x="507.2" y="59.6" font-family="Liberation Sans" font-size="5" fill="#222" font-weight="bold" >4</text>
<text x="471.5" y="45.5" font-family="Liberation Sans" font-size="5" fill="#555" font-weight="normal" >+</text>
<text x="472" y="63.5" font-family="Liberation Sans" font-size="5" fill="#555" font-weight="normal" >-</text>
<text x="487.1" y="45.6" font-family="Liberation Sans" font-size="5.6" fill="#333" font-weight="normal"  textLength="7.7" lengthAdjust="spacingAndGlyphs">AC</text>
<text x="487.1" y="63.2" font-family="Liberation Sans" font-size="5.6" fill="#333" font-weight="normal"  textLength="7.7" lengthAdjust="spacingAndGlyphs">AC</text>
<line x1="498.3" y1="43.4" x2="534.3" y2="43.4" stroke="#4a4a4a" stroke-width="1.05" />
<polyline points="498.3,61.2 521.7,61.2 521.7,67.3 534.3,67.3" stroke="#4a4a4a" stroke-width="1.05" fill="none" stroke-linejoin="miter"/>
<path d="M534.8,43.4 A2.1,2.9875 0 0 1 534.8,49.375 A2.1,2.9875 0 0 1 534.8,55.349999999999994 A2.1,2.9875 0 0 1 534.8,61.324999999999996 A2.1,2.9875 0 0 1 534.8,67.3" stroke="#4646e6" stroke-width="0.95" fill="none"/>
<path d="M545.4,43.4 A2.1,2.9875 0 0 0 545.4,49.375 A2.1,2.9875 0 0 0 545.4,55.349999999999994 A2.1,2.9875 0 0 0 545.4,61.324999999999996 A2.1,2.9875 0 0 0 545.4,67.3" stroke="#4646e6" stroke-width="0.95" fill="none"/>
<line x1="545.6" y1="43.4" x2="552.4" y2="43.4" stroke="#4a4a4a" stroke-width="1.05" />
<line x1="545.6" y1="67.3" x2="552.4" y2="67.3" stroke="#4a4a4a" stroke-width="1.05" />
<text x="534.5" y="38.7" font-family="Liberation Serif" font-size="7.4" fill="#303078" font-weight="normal"  textLength="6.5" lengthAdjust="spacingAndGlyphs" stroke="#303078" stroke-width="0.12">T1</text>
<path d="M534.8,115.4 A2.1,2.9875000000000007 0 0 1 534.8,121.375 A2.1,2.9875000000000007 0 0 1 534.8,127.35000000000001 A2.1,2.9875000000000007 0 0 1 534.8,133.32500000000002 A2.1,2.9875000000000007 0 0 1 534.8,139.3" stroke="#4646e6" stroke-width="0.95" fill="none"/>
<path d="M545.4,115.4 A2.1,2.9875000000000007 0 0 0 545.4,121.375 A2.1,2.9875000000000007 0 0 0 545.4,127.35000000000001 A2.1,2.9875000000000007 0 0 0 545.4,133.32500000000002 A2.1,2.9875000000000007 0 0 0 545.4,139.3" stroke="#4646e6" stroke-width="0.95" fill="none"/>
<line x1="545.6" y1="115.4" x2="552.4" y2="115.4" stroke="#4a4a4a" stroke-width="1.05" />
<line x1="545.6" y1="139.3" x2="552.4" y2="139.3" stroke="#4a4a4a" stroke-width="1.05" />
<text x="534.5" y="110.6" font-family="Liberation Serif" font-size="7.4" fill="#303078" font-weight="normal"  textLength="6.5" lengthAdjust="spacingAndGlyphs" stroke="#303078" stroke-width="0.12">T2</text>
<line x1="492" y1="115.4" x2="534.6" y2="115.4" stroke="#4f4a80" stroke-width="1.25" />
<line x1="492" y1="139.3" x2="534.6" y2="139.3" stroke="#4f4a80" stroke-width="1.25" />
<text x="492" y="113.2" font-family="Liberation Sans" font-size="4.3" fill="#a06060" font-weight="normal"  textLength="18" lengthAdjust="spacingAndGlyphs">AC12V1</text>
<text x="492" y="137.1" font-family="Liberation Sans" font-size="4.3" fill="#a06060" font-weight="normal"  textLength="18" lengthAdjust="spacingAndGlyphs">AC12V2</text>
<text x="483.6" y="129.6" font-family="Liberation Sans" font-size="8.2" fill="#7a7aa0" font-weight="normal"  textLength="16.4" lengthAdjust="spacingAndGlyphs">~12V</text>
<text x="363.3" y="221" font-family="Liberation Serif" font-size="11" fill="#000" font-weight="600">注:</text>
<text x="363.3" y="231" font-family="Liberation Serif" font-size="10.5" fill="#111" font-weight="bold" textLength="10.3" lengthAdjust="spacingAndGlyphs">R1</text>
<text x="377.9" y="231" font-family="Liberation Serif" font-size="10.5" fill="#111" font-weight="bold" textLength="5.7" lengthAdjust="spacingAndGlyphs">~</text>
<text x="391.9" y="231" font-family="Liberation Serif" font-size="10.5" fill="#111" font-weight="bold" textLength="16.0" lengthAdjust="spacingAndGlyphs">R15</text>
<text x="407.9" y="231" font-family="Liberation Serif" font-size="11" fill="#000" font-weight="600" textLength="142" lengthAdjust="spacing">电阻值越大，光洁度越高，但</text>
<text x="363.3" y="242.5" font-family="Liberation Serif" font-size="11" fill="#000" font-weight="600">太大时，加工速度会减慢。</text>
<text x="258.9" y="818" font-family="Liberation Sans" font-size="13.9" fill="#111">图三、高频电源后级的建议接法</text>
<circle cx="304.5" cy="91.5" r="2.0" fill="#720a14"/>
<circle cx="328.5" cy="91.5" r="2.0" fill="#720a14"/>
<circle cx="268.5" cy="121.5" r="2.0" fill="#720a14"/>
<circle cx="171.8" cy="133.5" r="2.0" fill="#720a14"/>
<circle cx="202.9" cy="133.5" r="2.0" fill="#720a14"/>
<circle cx="208.5" cy="133.5" r="2.0" fill="#720a14"/>
<circle cx="208.5" cy="163.5" r="2.0" fill="#720a14"/>
<circle cx="304.5" cy="193.5" r="2.0" fill="#720a14"/>
<circle cx="328.5" cy="193.5" r="2.0" fill="#720a14"/>
<circle cx="268.5" cy="223.5" r="2.0" fill="#720a14"/>
<circle cx="172.3" cy="235.5" r="2.0" fill="#720a14"/>
<circle cx="203.4" cy="235.5" r="2.0" fill="#720a14"/>
<circle cx="208.5" cy="235.5" r="2.0" fill="#720a14"/>
<circle cx="172.3" cy="247.4" r="2.0" fill="#720a14"/>
<circle cx="208.5" cy="265.5" r="2.0" fill="#720a14"/>
<circle cx="304.5" cy="295.5" r="2.0" fill="#720a14"/>
<circle cx="328.5" cy="295.5" r="2.0" fill="#720a14"/>
<circle cx="268.5" cy="325.5" r="2.0" fill="#720a14"/>
<circle cx="172.10000000000002" cy="337.5" r="2.0" fill="#720a14"/>
<circle cx="203.20000000000002" cy="337.5" r="2.0" fill="#720a14"/>
<circle cx="208.5" cy="337.5" r="2.0" fill="#720a14"/>
<circle cx="208.5" cy="367.5" r="2.0" fill="#720a14"/>
<circle cx="304.5" cy="397.8" r="2.0" fill="#720a14"/>
<circle cx="328.5" cy="397.8" r="2.0" fill="#720a14"/>
<circle cx="268.5" cy="427.8" r="2.0" fill="#720a14"/>
<circle cx="172.60000000000002" cy="439.8" r="2.0" fill="#720a14"/>
<circle cx="203.70000000000002" cy="439.8" r="2.0" fill="#720a14"/>
<circle cx="208.5" cy="439.8" r="2.0" fill="#720a14"/>
<circle cx="172.60000000000002" cy="452.1" r="2.0" fill="#720a14"/>
<circle cx="208.5" cy="469.8" r="2.0" fill="#720a14"/>
<circle cx="304.5" cy="499.5" r="2.0" fill="#720a14"/>
<circle cx="328.5" cy="499.5" r="2.0" fill="#720a14"/>
<circle cx="268.5" cy="529.5" r="2.0" fill="#720a14"/>
<circle cx="172.3" cy="541.5" r="2.0" fill="#720a14"/>
<circle cx="203.4" cy="541.5" r="2.0" fill="#720a14"/>
<circle cx="208.5" cy="541.5" r="2.0" fill="#720a14"/>
<circle cx="208.5" cy="571.5" r="2.0" fill="#720a14"/>
<circle cx="304.5" cy="602.0" r="2.0" fill="#720a14"/>
<circle cx="328.5" cy="602.0" r="2.0" fill="#720a14"/>
<circle cx="268.5" cy="632.0" r="2.0" fill="#720a14"/>
<circle cx="172.60000000000002" cy="644.0" r="2.0" fill="#720a14"/>
<circle cx="203.70000000000002" cy="644.0" r="2.0" fill="#720a14"/>
<circle cx="208.5" cy="644.0" r="2.0" fill="#720a14"/>
<circle cx="172.60000000000002" cy="656.3" r="2.0" fill="#720a14"/>
<circle cx="208.5" cy="674.0" r="2.0" fill="#720a14"/>
<circle cx="304.5" cy="703.8" r="2.0" fill="#720a14"/>
<circle cx="268.5" cy="733.8" r="2.0" fill="#720a14"/>
<circle cx="172.4" cy="745.8" r="2.0" fill="#720a14"/>
<circle cx="203.5" cy="745.8" r="2.0" fill="#720a14"/>
<circle cx="208.5" cy="745.8" r="2.0" fill="#720a14"/>
<circle cx="208.5" cy="775.8" r="2.0" fill="#720a14"/>
<circle cx="365" cy="91.5" r="2.0" fill="#720a14"/>
<circle cx="328.5" cy="49.3" r="2.0" fill="#720a14"/>
<circle cx="328.5" cy="85.3" r="2.0" fill="#720a14"/>
<circle cx="365" cy="43.4" r="2.0" fill="#720a14"/>
<circle cx="394.6" cy="43.4" r="2.0" fill="#720a14"/>
<circle cx="438.3" cy="43.4" r="2.0" fill="#720a14"/>
<circle cx="438.3" cy="67.1" r="2.0" fill="#720a14"/>
</svg>
</body></html>
